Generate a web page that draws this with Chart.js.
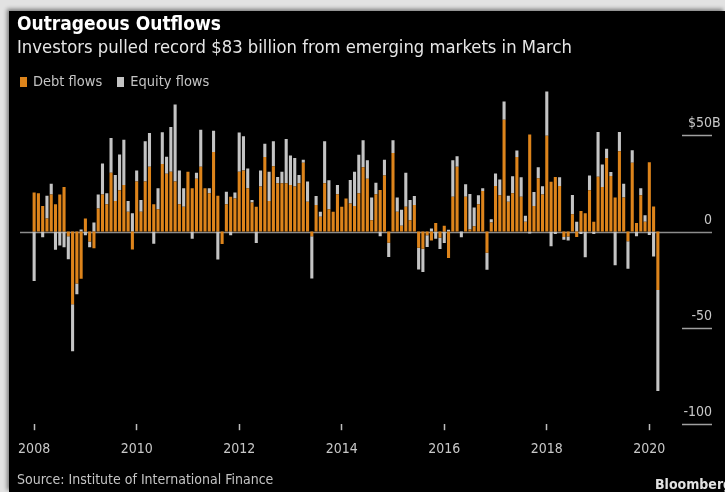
<!DOCTYPE html>
<html>
<head>
<meta charset="utf-8">
<script src="https://cdn.jsdelivr.net/npm/chart.js@4.4.1/dist/chart.umd.min.js"></script>
<style>
  html, body { margin: 0; padding: 0; }
  body { width: 725px; height: 492px; background: #e2e2e2; position: relative; overflow: hidden;
         font-family: "DejaVu Sans Condensed", "DejaVu Sans", sans-serif; }
  #panel { position: absolute; left: 9px; top: 11px; right: 0; bottom: 0; background: #000;
           box-shadow: -2px -2px 4px rgba(0,0,0,0.45); }
  #chart { position: absolute; left: 0; top: 0; }
  .txt { position: absolute; white-space: nowrap; line-height: 1; }
  #title { left: 17px; top: 14px; font-size: 19px; font-weight: bold; color: #fff; }
  #subtitle { left: 17px; top: 38px; font-size: 18.3px; color: #e6e6e6; }
  #legend { left: 20px; top: 74px; font-size: 14.5px; color: #c4c4c4; }
  .sw { display: inline-block; width: 7px; height: 10px; margin-right: 6px; vertical-align: -1px; }
  #source { left: 17px; top: 472px; font-size: 14px; color: #c4c4c4; }
  #brand { left: 655px; top: 477px; font-size: 14px; font-weight: bold; color: #e2e2e2; }
</style>
</head>
<body>
<div id="panel"></div>
<canvas id="chart" width="725" height="492"></canvas>
<div class="txt" id="title">Outrageous Outflows</div>
<div class="txt" id="subtitle">Investors pulled record $83 billion from emerging markets in March</div>
<div class="txt" id="legend"><span class="sw" style="background:#dd841b"></span>Debt flows<span style="display:inline-block;width:15px"></span><span class="sw" style="background:#c4c4c4"></span>Equity flows</div>
<div class="txt" id="source">Source: Institute of International Finance</div>
<div class="txt" id="brand">Bloomberg</div>

<script>
// monthly flows, Jan 2008 - Mar 2020, $ billions
const startYear = 2008;
const debtFlows = [
  20.2, 19.8, 13.3, 6.8, 19.2, 14.2, 19.2, 23.1, -2.4, -37.8, -27, -24.5,
  6.8, -5.2, -8.7, 12, 19.2, 14.2, 30.5, 15.9, 21.4, 24.1, 10.2, -9.3,
  25.9, 10.2, 25.9, 33.6, 14.2, 11.6, 35, 30, 31, 25.9, 14.2, 12.8,
  31, 22.4, 27.4, 33.6, 22.4, 19.8, 41.3, 18.5, -6.5, 14.2, 18.1, 17.1,
  31, 31.7, 22.4, 15, 12.8, 23.3, 38.7, 15.9, 33.9, 25, 25, 25,
  24.1, 23.3, 25, 35.7, 15.4, -2.4, 13.8, 7.6, 25, 11.6, 10.2, 19.3,
  12.8, 17.1, 14.5, 13.3, 19.8, 33.4, 27.4, 5.9, 19.3, 21.6, 29.1, -5.8,
  40.8, 10.2, 3, 12.8, 5.9, 13.8, -8.4, -9, -2, -4.6, 4.4, -3.3,
  3, -13.8, 18.1, 33.6, 0, 18.1, 1, 2.7, 14.2, 21, -11, 4.7,
  23.6, 18.8, 58, 15.4, 19.8, 38.7, 18.1, 5.1, 50.3, 13.3, 27.6, 19.2,
  49.7, 25.8, 28.3, 23.6, -2.9, -2.6, 9, -2.9, 10.7, 9.5, 21.4, 5.1,
  28.4, 23.1, 38.2, 28.8, 17.6, 41.7, 17.6, -5, 35.7, 4.4, 18.8, 5.1,
  36, 13, -30.4
];
const equityFlows = [
  -25.7, 0, -3, 11.7, 5.6, -9.4, -7.3, -8.2, -12, -24.4, -5.5, 1,
  -2, -3, 4.7, 7.2, 16.1, 5.7, 18, 13.4, 18.6, 23.5, 5.7, 9.5,
  5.8, 6.2, 21, 17.5, -6.4, 10.8, 16.5, 8.8, 23.2, 40, 17.5, 9.6,
  0, -3.8, 3.1, 19.2, 0, 2.6, 11, -14.5, 0, 6.5, -2, 3.1,
  20.4, 17.7, 10.3, 1.4, -6, 8.4, 6.9, 15.1, 12.9, 3.3, 6, 23,
  15.3, 14.9, 4.3, 1.5, 10.5, -22, 4.6, 2.6, 21.8, 15, 0, 4.8,
  0, 0, 12.2, 17.7, 20.1, 13.9, 9.6, 11.7, 6, -2.4, 8.2, -7.4,
  6.5, 7.4, 8.3, 17.7, 10.5, 4.6, -11.3, -12, -6, 1.6, -3.8, -5.8,
  -6, 0.9, 18.9, 5.5, -3, 6.4, 18.5, 9.8, 4.6, 1.4, -8.8, 1.7,
  6.5, 8.2, 9.5, 3.1, 8.9, 3.4, 10.1, 3.1, -1, 7.2, 5.8, 4.3,
  22.9, -7.6, -1.3, 4.6, -1.4, -2, 10, 5.1, -1.3, -13.3, 7.7, -1.3,
  23.2, 11.7, 4.8, 2.1, -17.5, 10, 7.2, -14.3, 6.5, -2.4, 3.6, 3.4,
  -1.8, -13, -52.4
];
const xTickYears = [2008, 2010, 2012, 2014, 2016, 2018, 2020];
const yTicks = [50, 0, -50, -100];
const yTickLabels = ['$50B', '0', '-50', '-100'];

const months = debtFlows.map((_, i) =>
  (startYear + Math.floor(i / 12)) + '-' + String(i % 12 + 1).padStart(2, '0'));

const ORANGE = '#dd841b';
const GREY = '#c4c4c4';
const AXIS_FONT = '"DejaVu Sans Condensed", "DejaVu Sans", sans-serif';

// zero line + right hand labels with short rules under them
const rightAxis = {
  id: 'rightAxis',
  beforeDatasetsDraw(chart) {
    const { ctx, chartArea, scales: { y } } = chart;
    const y0 = Math.round(y.getPixelForValue(0)) + 0.5;
    ctx.save();
    ctx.strokeStyle = '#8c8c8c';
    ctx.lineWidth = 1.5;
    ctx.beginPath();
    ctx.moveTo(chartArea.left - 12, y0);
    ctx.lineTo(712, y0);
    ctx.stroke();
    ctx.restore();
  },
  afterDraw(chart) {
    const { ctx, scales: { y } } = chart;
    ctx.save();
    ctx.font = '14px ' + AXIS_FONT;
    ctx.fillStyle = '#c8c8c8';
    ctx.strokeStyle = '#a0a0a0';
    ctx.lineWidth = 1.5;
    ctx.textBaseline = 'alphabetic';
    yTicks.forEach((v, i) => {
      const py = Math.round(y.getPixelForValue(v)) + 0.5;
      if (v !== 0) {
        ctx.beginPath();
        ctx.moveTo(682, py);
        ctx.lineTo(712, py);
        ctx.stroke();
      }
      let label = yTickLabels[i];
      let right = 712;
      if (label.endsWith('B')) right += ctx.measureText('B').width;
      ctx.textAlign = 'right';
      ctx.fillText(label, right, py - 9);
    });
    ctx.restore();
  }
};

const chart = new Chart(document.getElementById('chart').getContext('2d'), {
  type: 'bar',
  data: {
    labels: months,
    datasets: [
      { label: 'Debt flows', data: debtFlows, backgroundColor: ORANGE },
      { label: 'Equity flows', data: equityFlows, backgroundColor: GREY }
    ]
  },
  options: {
    responsive: false,
    animation: false,
    devicePixelRatio: 1,
    categoryPercentage: 1,
    barPercentage: 0.72,
    layout: { padding: { left: 32, right: 65, top: 87, bottom: 23 } },
    plugins: { legend: { display: false }, tooltip: { enabled: false } },
    scales: {
      x: {
        stacked: true,
        border: { display: false },
        grid: { drawOnChartArea: false, offset: false, tickLength: 6, tickColor: '#bdbdbd', tickWidth: 1.5 },
        ticks: {
          autoSkip: false,
          maxRotation: 0,
          padding: 11,
          color: '#c8c8c8',
          font: { family: AXIS_FONT, size: 14 },
          callback: (val, i) => {
            const m = months[i];
            const yr = +m.slice(0, 4);
            return (m.endsWith('-01') && xTickYears.includes(yr)) ? String(yr) : null;
          }
        }
      },
      y: {
        stacked: true,
        display: false,
        min: -100,
        max: 75
      }
    }
  },
  plugins: [rightAxis]
});
</script>
</body>
</html>
